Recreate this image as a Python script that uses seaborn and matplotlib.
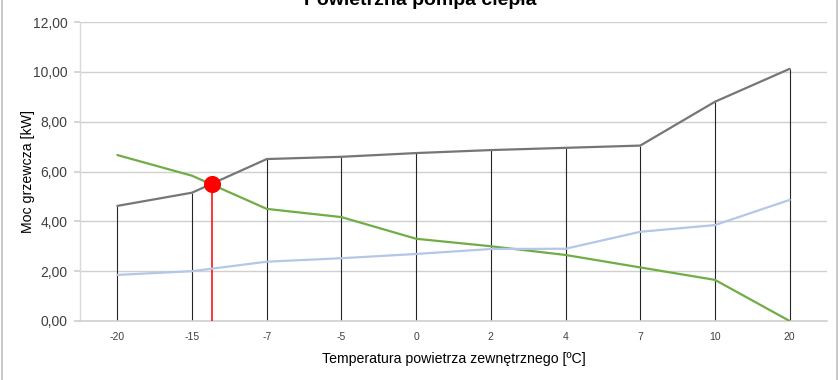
import matplotlib
matplotlib.use("Agg")
import matplotlib.pyplot as plt
import seaborn as sns
import pandas as pd
import numpy as np
from matplotlib.lines import Line2D

categories = ["-20", "-15", "-7", "-5", "0", "2", "4", "7", "10", "20"]
gray_series = [4.62, 5.15, 6.50, 6.59, 6.74, 6.86, 6.95, 7.04, 8.80, 10.12]
green_series = [6.66, 5.83, 4.50, 4.17, 3.30, 3.00, 2.65, 2.15, 1.65, 0.00]
blue_series = [1.85, 2.00, 2.38, 2.52, 2.69, 2.89, 2.90, 3.58, 3.85, 4.86]
point_x = 1.27
point_y = 5.50

yticks = [0, 2, 4, 6, 8, 10, 12]
ytick_labels = ["0,00", "2,00", "4,00", "6,00", "8,00", "10,00", "12,00"]

sns.set_theme(style="white")
plt.rcParams["font.family"] = ["Liberation Sans Narrow", "Liberation Sans", "DejaVu Sans"]

fig = plt.figure(figsize=(8.4, 3.8), dpi=100)
ax = fig.add_axes([80 / 840, 1 - 321 / 380, (827 - 80) / 840, (321 - 22) / 380])

idx = np.arange(len(categories))
df = pd.DataFrame({
    "x": np.tile(idx, 3),
    "y": gray_series + green_series + blue_series,
    "s": ["gray"] * 10 + ["green"] * 10 + ["blue"] * 10,
})

# drop lines
ax.vlines(idx, 0, gray_series, colors="#262626", linewidth=0.8, zorder=2)
# red vertical
ax.vlines([point_x], 0, point_y, colors="#ff0000", linewidth=1.1, zorder=3)

sns.lineplot(data=df, x="x", y="y", hue="s",
             palette={"gray": "#767676", "green": "#70ad47", "blue": "#b4c7e7"},
             linewidth=1.6, legend=False, ax=ax, zorder=4, sort=False)

sns.scatterplot(x=[point_x], y=[point_y], color="#ff0000", s=130,
                edgecolor="#ff0000", ax=ax, zorder=6, legend=False)

ax.set_xlim(-0.5, len(categories) - 0.5)
ax.set_ylim(0, 12)
ax.set_xticks(idx)
ax.set_xticklabels(categories, fontsize=7.5, color="#404040")
ax.set_yticks(yticks)
ax.set_yticklabels(ytick_labels, fontsize=10, color="#404040")
ax.grid(axis="y", color="#d0d0d0", linewidth=1.0, zorder=0)
ax.grid(axis="x", visible=False)
for s in ["top", "right"]:
    ax.spines[s].set_visible(False)
ax.spines["left"].set_color("#d9d9d9")
ax.spines["left"].set_linewidth(1.0)
ax.spines["bottom"].set_color("#d0d0d0")
ax.spines["bottom"].set_linewidth(1.2)
ax.tick_params(axis="y", which="both", left=True, length=4, color="#d0d0d0", pad=5)
ax.tick_params(axis="x", bottom=False, pad=2)

ax.set_xlabel("Temperatura powietrza zewnętrznego [ºC]", fontsize=10.2, color="#000000")
ax.xaxis.set_label_coords(0.5, -0.103)
ax.set_ylabel("Moc grzewcza [kW]", fontsize=10.2, color="#000000")
ax.yaxis.set_label_coords(-0.07, 0.5)
ax.yaxis.label.set_va("center")

fig.text(0.5, 1 - 5 / 380, "Powietrzna pompa ciepła", ha="center", va="baseline",
         fontsize=14, fontweight="bold", family=["Liberation Sans", "DejaVu Sans"], color="#000000")

# chart border (left/right)
fig.add_artist(Line2D([1.5 / 840, 1.5 / 840], [0, 1], color="#bfbfbf", linewidth=1.2, transform=fig.transFigure))
fig.add_artist(Line2D([837 / 840, 837 / 840], [0, 1], color="#bfbfbf", linewidth=1.2, transform=fig.transFigure))

fig.savefig("out.png", dpi=100)
